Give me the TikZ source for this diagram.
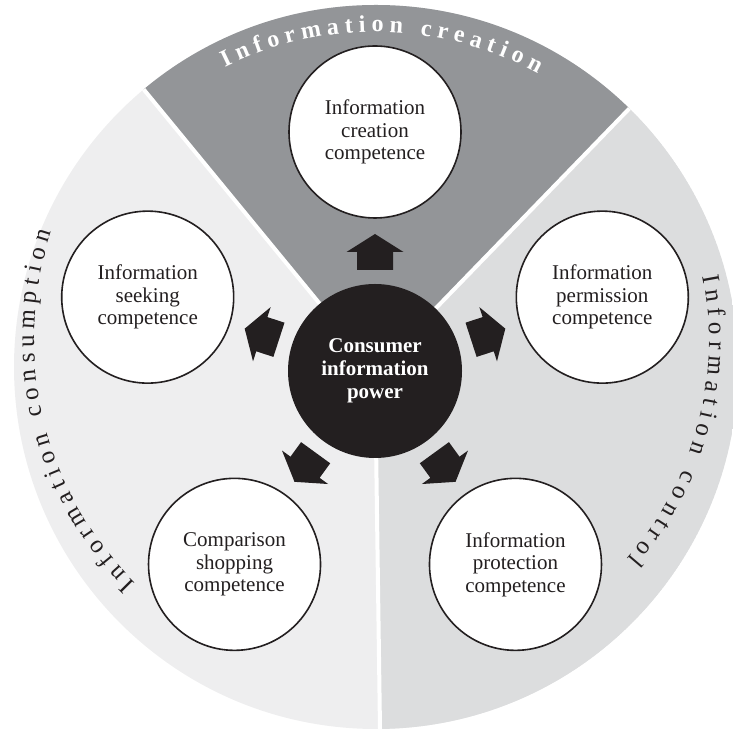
\documentclass[tikz,border=0pt]{standalone}
\usepackage{fontspec}
\setmainfont{Liberation Serif}
\usetikzlibrary{decorations.text}
\definecolor{inkblack}{HTML}{231F20}
\definecolor{creationgray}{HTML}{939598}
\definecolor{consumptiongray}{HTML}{EEEEEF}
\definecolor{controlgray}{HTML}{DCDDDE}

\begin{document}
\begin{tikzpicture}[x=1pt,y=1pt,
  competence/.style={circle, draw=inkblack, line width=1.6pt, fill=white,
    minimum size=172pt, inner sep=0pt, align=center, text=inkblack,
    font=\fontsize{21}{22.5}\selectfont},
  hubnode/.style={circle, fill=inkblack, minimum size=174pt, inner sep=0pt,
    align=center, text=white, font=\bfseries\fontsize{21}{23}\selectfont},
  divider/.style={white, line width=4pt},
  blockarrow/.style={fill=inkblack},
  ringlabel/.style={decorate, decoration={text along path, text align=fit to path, text={#1}}}
]
\useasboundingbox (0,0) rectangle (733,730);
\coordinate (disc) at (376,363);
\coordinate (o) at (375,359);
\coordinate (sidearc) at (375,390);

% three sectors of the outer disc
\begin{scope}
  \clip (disc) circle[radius=362];
  \fill[consumptiongray] (disc) circle[radius=362];
  \fill[creationgray] (o) -- +(45.9:600) -- +(90:800) -- +(129.4:600) -- cycle;
  \fill[controlgray] (o) -- +(-89.2:600) -- +(-20:800) -- +(45.9:600) -- cycle;
  \draw[divider] (o) -- +(129.4:420);
  \draw[divider] (o) -- +(45.9:420);
  \draw[divider] (o) -- +(-89.2:420);
\end{scope}

% central hub
\node[hubnode] (hub) at (o) {Consumer\\information\\power};

% block arrows pointing outwards
\foreach \a in {90,162,234,306,18} {
  \fill[blockarrow, shift={(hub.center)}, rotate=\a]
    (101,-18) -- (119,-18) -- (119,-28.5) -- (137,0) -- (119,28.5) -- (119,18) -- (101,18) -- cycle;
}

% competence circles
\node[competence] (create)  at ([shift={(90:239)}]hub.center)  {Information\\creation\\competence};
\node[competence] (seek)    at ([shift={(162:239)}]hub.center) {Information\\seeking\\competence};
\node[competence] (compare) at ([shift={(234:239)}]hub.center) {Comparison\\shopping\\competence};
\node[competence] (protect) at ([shift={(306:239)}]hub.center) {Information\\protection\\competence};
\node[competence] (permit)  at ([shift={(18:239)}]hub.center)  {Information\\permission\\competence};

% curved sector titles
\path[ringlabel={|\bfseries\fontsize{24}{24}\selectfont\color{white}|Information creation}]
  ([shift={(116.3:339)}]hub.center) arc[start angle=116.3, end angle=61.3, radius=339];
\path[ringlabel={|\fontsize{25}{25}\selectfont\color{inkblack}|Information consumption}]
  ([shift={(225.5:341)}]sidearc) arc[start angle=225.5, end angle=161.5, radius=341];
\path[ringlabel={|\fontsize{25}{25}\selectfont\color{inkblack}|Information control}]
  ([shift={(11:334)}]sidearc) arc[start angle=11, end angle=-41, radius=334];
\end{tikzpicture}
\end{document}
